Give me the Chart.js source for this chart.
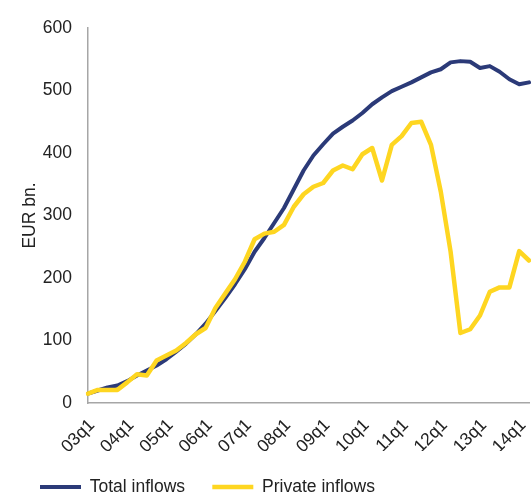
<!DOCTYPE html>
<html>
<head>
<meta charset="utf-8">
<script src="https://cdn.jsdelivr.net/npm/chart.js@4.4.1/dist/chart.umd.min.js"></script>
<style>
  html, body { margin: 0; padding: 0; background: #fff; }
  #inflows-chart { display: block; }
</style>
</head>
<body>
<canvas id="inflows-chart" width="531" height="494"></canvas>
<script>
// quarters 03q1 .. 14q2
var quarters = [
	"03q1","03q2","03q3","03q4","04q1","04q2","04q3","04q4",
	"05q1","05q2","05q3","05q4","06q1","06q2","06q3","06q4",
	"07q1","07q2","07q3","07q4","08q1","08q2","08q3","08q4",
	"09q1","09q2","09q3","09q4","10q1","10q2","10q3","10q4",
	"11q1","11q2","11q3","11q4","12q1","12q2","12q3","12q4",
	"13q1","13q2","13q3","13q4","14q1","14q2"
];

// EUR bn.
var totalInflows = [
	15, 20, 25, 28, 35, 44, 52, 60,
	70, 82, 95, 110, 127, 147, 168, 190,
	214, 242, 264, 288, 312, 342, 372, 396,
	414, 431, 442, 452, 464, 478, 489, 499,
	506, 513, 521, 529, 534, 545, 547, 546,
	536, 539, 530, 518, 510, 513
];

var privateInflows = [
	15, 21, 21, 21, 33, 46, 44, 68,
	76, 84, 96, 110, 120, 152, 175, 198,
	226, 262, 271, 274, 285, 314, 334, 346,
	352, 372, 380, 374, 398, 408, 356, 413,
	427, 448, 450, 413, 338, 242, 112, 118,
	140, 178, 185, 185, 243, 228
];

var yTicks = [0, 100, 200, 300, 400, 500, 600];

var navy = "#2b3a78";
var yellow = "#fed621";
var font = { family: "'Liberation Sans', Arial, sans-serif", size: 17.5 };

var ctx = document.getElementById("inflows-chart");

var chart = new Chart(ctx, {
	type: "line",
	data: {
		labels: quarters,
		datasets: [
			{
				label: "Total inflows",
				data: totalInflows,
				borderColor: navy,
				backgroundColor: navy,
				borderWidth: 4,
				borderCapStyle: "round",
				borderJoinStyle: "round",
				pointRadius: 0,
				tension: 0,
				order: 2
			},
			{
				label: "Private inflows",
				data: privateInflows,
				borderColor: yellow,
				backgroundColor: yellow,
				borderWidth: 4.5,
				borderCapStyle: "round",
				borderJoinStyle: "round",
				pointRadius: 0,
				tension: 0,
				order: 1
			}
		]
	},
	options: {
		responsive: false,
		animation: false,
		layout: { padding: { left: 12.75, right: 2, top: 28, bottom: 0 } },
		plugins: {
			tooltip: { enabled: false },
			legend: {
				display: true,
				position: "bottom",
				align: "start",
				maxHeight: 43,
				labels: {
					usePointStyle: true,
					pointStyle: "line",
					pointStyleWidth: 41,
					padding: 27.25,
					color: "#222",
					font: font,
					sort: function(a, b) { return a.datasetIndex - b.datasetIndex; }
				}
			}
		},
		scales: {
			x: {
				grid: { display: false, drawTicks: false },
				border: { display: true, color: "#a6a6a6", width: 1.5 },
				ticks: {
					autoSkip: false,
					minRotation: 45,
					maxRotation: 45,
					padding: 12,
					labelOffset: 4,
					color: "#222",
					font: font,
					callback: function(value, index) {
						return index % 4 === 0 ? this.getLabelForValue(value) : null;
					}
				},
				afterFit: function(scale) {
					scale.height = 48;
					scale.paddingLeft = 0;
					scale.paddingRight = 0;
				}
			},
			y: {
				min: 0,
				max: 600,
				grid: { display: false, drawTicks: false },
				border: { display: true, color: "#a6a6a6", width: 1.5 },
				afterBuildTicks: function(scale) {
					scale.ticks = yTicks.map(function(v) { return { value: v }; });
				},
				ticks: {
					padding: 16,
					color: "#222",
					font: font
				},
				title: {
					display: true,
					text: "EUR bn.",
					color: "#222",
					font: font,
					padding: { top: 7, bottom: 0 }
				},
				afterFit: function(scale) {
					scale.width = 75.25;
				}
			}
		}
	}
});
</script>
</body>
</html>
